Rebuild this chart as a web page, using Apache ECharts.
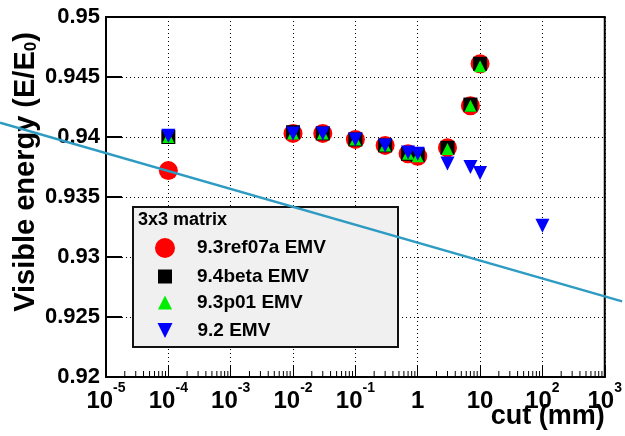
<!DOCTYPE html>
<html>
<head>
<meta charset="utf-8">
<script src="https://cdn.jsdelivr.net/npm/echarts@6/dist/echarts.min.js"></script>
<style>
  html, body { margin: 0; padding: 0; background: #fff; }
  #chart { width: 625px; height: 436px; }
</style>
</head>
<body>
<div id="chart"></div>
<script>
// cut values (mm)
var cuts = [1e-4, 1e-2, 3e-2, 0.1, 0.3, 0.7, 1, 3, 7, 10];
var cuts92 = [1e-4, 1e-2, 3e-2, 0.1, 0.3, 0.7, 1, 3, 7, 10, 100];

// visible energy E/E0
var ref07a = [0.9372, 0.9403, 0.9403, 0.9398, 0.9393, 0.9386, 0.9384, 0.9391, 0.9426, 0.9461];
var beta94 = [0.9400, 0.9404, 0.9403, 0.9398, 0.9393, 0.9386, 0.9385, 0.9391, 0.9427, 0.9461];
var p01 = [0.9400, 0.9403, 0.9403, 0.9398, 0.9393, 0.9386, 0.9384, 0.9390, 0.9426, 0.9459];
var v92 = [0.9401, 0.9403, 0.9403, 0.9398, 0.9393, 0.9387, 0.9386, 0.9378, 0.9375, 0.9370, 0.9326];

// straight annotation line drawn over the plot (data coords, runs past the frame)
var annotX = [2e-7, 1.9e3];
var annotY = [0.9412, 0.9263];

var yTicks = [0.92, 0.925, 0.93, 0.935, 0.94, 0.945, 0.95];
var decades = [-5, -4, -3, -2, -1, 0, 1, 2, 3];

var FONT = "Liberation Sans";

function pairs(xs, ys) {
  return xs.map(function (x, i) { return [x, ys[i]]; });
}

// minor ticks 2..9 inside each decade
var minorTicks = [];
decades.slice(0, -1).forEach(function (e) {
  for (var k = 2; k <= 9; k++) minorTicks.push([k * Math.pow(10, e), yTicks[0]]);
});

var chart = echarts.init(document.getElementById("chart"));

function oneLegend(name, icon, top, size, pad) {
  return {
    data: [{ name: name, icon: icon }], left: 165 - size / 2, top: top, padding: 0,
    itemWidth: size, itemHeight: size, selectedMode: false,
    textStyle: {
      fontFamily: FONT, fontSize: 19, fontWeight: "bold", color: "#000",
      padding: [0, 0, 0, pad]
    }
  };
}

var boxRect = {
  id: "box", type: "rect", left: 132, top: 206, z: 1,
  shape: { width: 265, height: 140 },
  style: { fill: "#f0f0f0", stroke: "#111", lineWidth: 2 }
};

chart.setOption({
  animation: false,
  backgroundColor: "#fff",
  textStyle: { fontFamily: FONT },
  title: {
    text: "3x3 matrix", left: 138, top: 211, padding: 0,
    textStyle: { fontFamily: FONT, fontSize: 18, fontWeight: "bold", color: "#000" }
  },
  graphic: [boxRect],
  legend: [
    oneLegend("9.3ref07a EMV", "circle", 238, 20, 17),
    oneLegend("9.4beta EMV", "rect", 267, 14, 20),
    oneLegend("9.3p01 EMV", "triangle", 293, 14, 20),
    oneLegend("9.2 EMV", "path://M0,0 L10,0 L5,10 Z", 321, 15, 20)
  ],
  grid: {
    left: 106, right: 17, top: 17, bottom: 59,
    show: true, borderColor: "#000", borderWidth: 2
  },
  xAxis: {
    type: "log", logBase: 10, min: 1e-5, max: 1e3, splitNumber: 8,
    name: "cut (mm)", nameLocation: "end", nameGap: 0, nameMoveOverlap: false,
    nameTextStyle: {
      fontFamily: FONT, fontSize: 27, fontWeight: "bold", color: "#000",
      align: "right", verticalAlign: "top", padding: [26, 0, 0, 0]
    },
    axisLine: { lineStyle: { color: "#000", width: 2 } },
    axisTick: { inside: true, length: 11, lineStyle: { color: "#000", width: 1 } },
    splitLine: { show: true, lineStyle: { color: "#000", type: [1, 3], width: 1 } },
    axisLabel: {
      margin: 4,
      formatter: function (v) {
        var e = Math.round(Math.log10(v));
        if (e === 0) return "{b|1}";
        if (e === 1) return "{b|10}";
        return "{b|10}{s|" + e + "}";
      },
      rich: {
        b: { fontFamily: FONT, fontSize: 24, fontWeight: "bold", color: "#000", padding: [8, 0, 0, 0] },
        s: { fontFamily: FONT, fontSize: 14, fontWeight: "bold", color: "#000", verticalAlign: "top" }
      }
    }
  },
  yAxis: {
    type: "value", min: 0.92, max: 0.95, interval: 0.005,
    name: "{a|Visible energy (E/E}{s|0}{a|)}",
    nameLocation: "middle", nameRotate: 90, nameGap: 66, nameMoveOverlap: false,
    nameTextStyle: {
      padding: [0, 0, 0, 50],
      rich: {
        a: { fontFamily: FONT, fontSize: 29, fontWeight: "bold", color: "#000" },
        s: { fontFamily: FONT, fontSize: 17, fontWeight: "bold", color: "#000", verticalAlign: "bottom" }
      }
    },
    axisLine: { lineStyle: { color: "#000", width: 2 } },
    axisTick: { inside: true, length: 16, lineStyle: { color: "#000", width: 2 } },
    splitLine: { show: true, lineStyle: { color: "#000", type: [1, 3], width: 1 } },
    axisLabel: {
      margin: 6, fontFamily: FONT, fontSize: 22, fontWeight: "bold", color: "#000",
      formatter: function (v) { return String(+v.toFixed(3)); }
    }
  },
  series: [
    {
      name: "minor", type: "custom", silent: true, z: 3,
      data: minorTicks,
      renderItem: function (params, api) {
        var p = api.coord([api.value(0), api.value(1)]);
        return {
          type: "line",
          shape: { x1: p[0], y1: p[1], x2: p[0], y2: p[1] - 6 },
          style: { stroke: "#000", lineWidth: 1 }
        };
      }
    },
    {
      name: "9.3ref07a EMV", type: "scatter", symbol: "circle", symbolSize: 19, z: 3,
      itemStyle: { color: "#ff0000", opacity: 1 }, data: pairs(cuts, ref07a)
    },
    {
      name: "9.4beta EMV", type: "scatter", symbol: "rect", symbolSize: 14, z: 4,
      itemStyle: { color: "#000", opacity: 1 }, data: pairs(cuts, beta94)
    },
    {
      name: "9.3p01 EMV", type: "scatter", symbol: "triangle", symbolSize: 12, z: 5,
      itemStyle: { color: "#00ee00", opacity: 1 }, data: pairs(cuts, p01)
    },
    {
      name: "9.2 EMV", type: "scatter", symbol: "triangle", symbolRotate: 180, symbolSize: 14, z: 6,
      itemStyle: { color: "#0000ff", opacity: 1 }, data: pairs(cuts92, v92)
    }
  ]
});

// annotation line: endpoints go through the axes, then drawn unclipped
var a0 = chart.convertToPixel({ gridIndex: 0 }, [annotX[0], annotY[0]]);
var a1 = chart.convertToPixel({ gridIndex: 0 }, [annotX[1], annotY[1]]);
chart.setOption({
  graphic: [boxRect, {
    id: "annot", type: "line", z: 10, silent: true,
    shape: { x1: a0[0], y1: a0[1], x2: a1[0], y2: a1[1] },
    style: { stroke: "#2e9bc2", lineWidth: 2.5 }
  }]
});
</script>
</body>
</html>
